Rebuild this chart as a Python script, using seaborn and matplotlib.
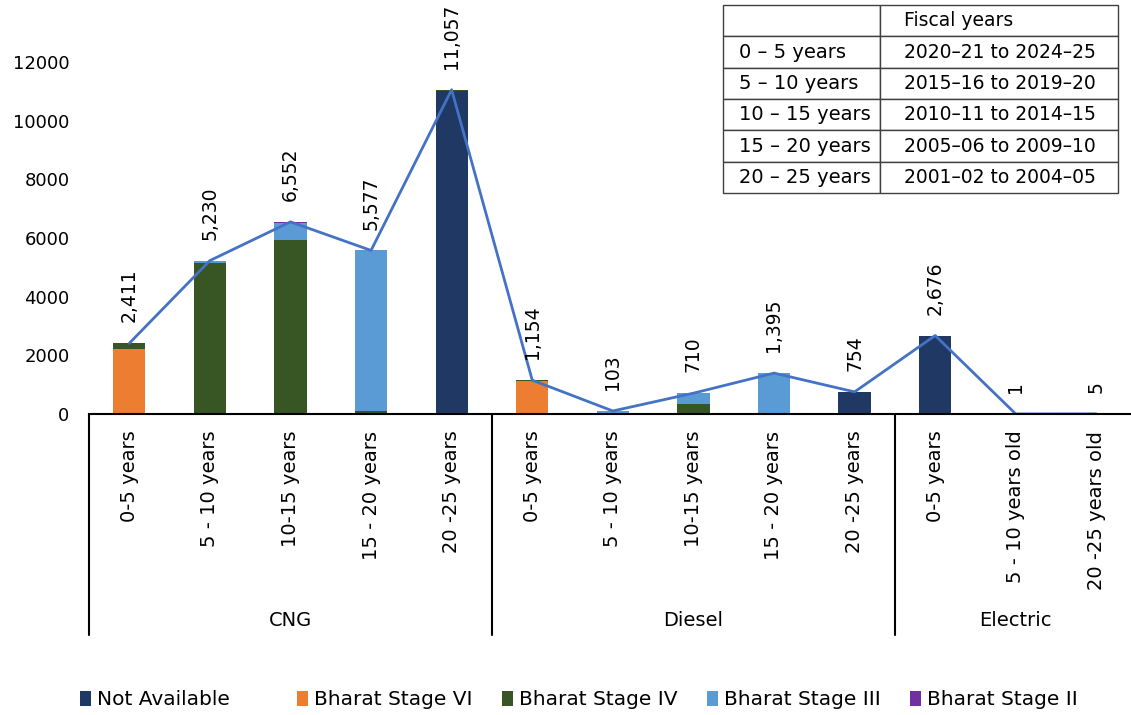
import numpy as np
import pandas as pd
import seaborn as sns
import matplotlib.pyplot as plt
import matplotlib.transforms as mtransforms
from matplotlib.patches import Patch

# ---- data -------------------------------------------------------------
fuels = ["CNG"] * 5 + ["Diesel"] * 5 + ["Electric"] * 3
ages = ["0-5 years", "5 - 10 years", "10-15 years", "15 - 20 years", "20 -25 years",
        "0-5 years", "5 - 10 years", "10-15 years", "15 - 20 years", "20 -25 years",
        "0-5 years", "5 - 10 years old", "20 -25 years old"]
totals = [2411, 5230, 6552, 5577, 11057, 1154, 103, 710, 1395, 754, 2676, 1, 5]

not_available = [0, 0, 0, 0, 11000, 0, 0, 0, 0, 754, 2676, 1, 5]
bharat_vi = [2220, 0, 0, 0, 0, 1120, 0, 0, 0, 0, 0, 0, 0]
bharat_iv = [191, 5150, 5930, 110, 57, 34, 0, 340, 0, 0, 0, 0, 0]
bharat_iii = [0, 80, 590, 5467, 0, 0, 103, 370, 1395, 0, 0, 0, 0]
bharat_ii = [0, 0, 32, 0, 0, 0, 0, 0, 0, 0, 0, 0, 0]

stage_names = ["Not Available", "Bharat Stage VI", "Bharat Stage IV",
               "Bharat Stage III", "Bharat Stage II"]
stage_colors = ["#1F3864", "#ED7D31", "#375623", "#5B9BD5", "#7030A0"]

fuel_groups = ["CNG", "Diesel", "Electric"]

table_rows = [["", "Fiscal years"],
              ["0 – 5 years", "2020–21 to 2024–25"],
              ["5 – 10 years", "2015–16 to 2019–20"],
              ["10 – 15 years", "2010–11 to 2014–15"],
              ["15 – 20 years", "2005–06 to 2009–10"],
              ["20 – 25 years", "2001–02 to 2004–05"]]

# ---- figure -------------------------------------------------------------
sns.set_theme(style="white")
plt.rcParams["font.family"] = ["DejaVu Sans"]
plt.rcParams["text.color"] = "black"
plt.rcParams["xtick.color"] = "black"
plt.rcParams["ytick.color"] = "black"

fig = plt.figure(figsize=(11.31, 7.15), dpi=100)
ax = fig.add_axes([89 / 1131, (715 - 414) / 715, 1 - 89 / 1131, 410.6 / 715])

keys = [f"{f}|{a}" for f, a in zip(fuels, ages)]
layers = np.array([not_available, bharat_vi, bharat_iv, bharat_iii, bharat_ii])
cum = np.cumsum(layers, axis=0)

# stacked bars: draw cumulative heights from the top layer downwards
for i in range(len(stage_names) - 1, -1, -1):
    df = pd.DataFrame({"key": keys, "value": cum[i]})
    sns.barplot(data=df, x="key", y="value", order=keys, color=stage_colors[i],
                width=0.4, saturation=1, errorbar=None, linewidth=0, ax=ax)

# total line
line_df = pd.DataFrame({"key": keys, "total": totals})
sns.lineplot(data=line_df, x="key", y="total", sort=False, color="#4472C4",
             linewidth=2, ax=ax)

for i, t in enumerate(totals):
    ax.annotate(f"{t:,}", (i, t), xytext=(0, 15), textcoords="offset points",
                rotation=90, ha="center", va="bottom", fontsize=13.5,
                color="black")

ax.set_xlim(-0.5, 12.43)
ax.set_ylim(0, 14000)
ax.set_yticks(range(0, 12001, 2000))
ax.set_yticklabels([str(v) for v in range(0, 12001, 2000)], fontsize=13)
ax.set_xticks(range(len(keys)))
ax.set_xticklabels(ages, rotation=90, fontsize=14, va="top")
ax.tick_params(axis="x", length=0, pad=12, labelcolor="black")
ax.tick_params(axis="y", length=0, pad=14, labelcolor="black")
ax.set_xlabel("")
ax.set_ylabel("")
for side in ["top", "right", "left"]:
    ax.spines[side].set_visible(False)
ax.spines["bottom"].set_color("black")
ax.spines["bottom"].set_linewidth(1.5)

# group separators and group names below the category labels
trans = mtransforms.blended_transform_factory(ax.transData, ax.transAxes)
for x in [-0.5, 4.5, 9.5]:
    ax.plot([x, x], [0, -0.538], transform=trans, color="black", lw=1.5,
            clip_on=False)
for xc, name in zip([2, 7, 11], fuel_groups):
    ax.text(xc, -0.502, name, transform=trans, ha="center", va="center",
            fontsize=14, color="black")

# fiscal-year reference table
tab_ax = fig.add_axes([723 / 1131, (715 - 193) / 715, 395 / 1131, 188 / 715])
tab_ax.axis("off")
tbl = tab_ax.table(cellText=table_rows, colWidths=[157 / 395, 238 / 395],
                   bbox=[0, 0, 1, 1], cellLoc="left")
tbl.auto_set_font_size(False)
for (r, c), cell in tbl.get_celld().items():
    cell.set_fontsize(14 if c == 0 else 13.5)
    cell.set_edgecolor("#404040")
    cell.set_linewidth(1.0)
    cell.get_text().set_color("black")

# legend: first entry sits apart from the four emission-stage entries
handles = [Patch(facecolor=c, edgecolor="none") for c in stage_colors]
legend_kw = dict(loc="center left", frameon=False, fontsize=14.5,
                 handlelength=0.55, handleheight=0.75, handletextpad=0.3,
                 borderpad=0, borderaxespad=0)
fig.legend(handles[:1], stage_names[:1], bbox_to_anchor=(80 / 1131, 0.021),
           ncol=1, **legend_kw)
fig.legend(handles[1:], stage_names[1:], bbox_to_anchor=(297 / 1131, 0.021),
           ncol=4, columnspacing=1.45, **legend_kw)

fig.savefig("out.png", dpi=100)
